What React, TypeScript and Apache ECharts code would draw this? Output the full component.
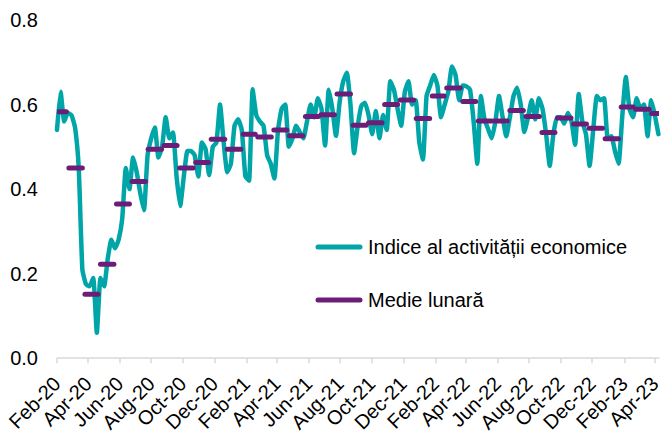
import React, { useEffect, useRef } from "react";
import * as echarts from "echarts";

// ---- data ----
const START_YEAR = 2020;
const START_MONTH = 1; // February (0-based)
const WEEK_STEP_DAYS = 7;

const tickLabels = [
  "Feb-20", "Apr-20", "Jun-20", "Aug-20", "Oct-20", "Dec-20",
  "Feb-21", "Apr-21", "Jun-21", "Aug-21", "Oct-21", "Dec-21",
  "Feb-22", "Apr-22", "Jun-22", "Aug-22", "Oct-22", "Dec-22",
  "Feb-23", "Apr-23",
];

const yTicks = [0, 0.2, 0.4, 0.6, 0.8];

// weekly activity index, starting 1 Feb 2020
const activityIndex = [
  0.54, 0.63, 0.56, 0.58, 0.575, 0.545, 0.45, 0.21, 0.175, 0.17,
  0.19, 0.06, 0.19, 0.17, 0.235, 0.28, 0.26, 0.28, 0.33, 0.45,
  0.40, 0.475, 0.44, 0.39, 0.35, 0.48, 0.52, 0.546, 0.475, 0.50,
  0.57, 0.52, 0.534, 0.43, 0.36, 0.43, 0.49, 0.49, 0.48, 0.43,
  0.51, 0.495, 0.433, 0.50, 0.51, 0.60, 0.51, 0.44, 0.46, 0.55,
  0.565, 0.54, 0.43, 0.42, 0.636, 0.575, 0.56, 0.55, 0.48, 0.46,
  0.425, 0.54, 0.59, 0.60, 0.50, 0.52, 0.55, 0.535, 0.52, 0.56,
  0.60, 0.57, 0.615, 0.59, 0.503, 0.635, 0.59, 0.526, 0.605, 0.655,
  0.675, 0.60, 0.485, 0.55, 0.597, 0.604, 0.575, 0.53, 0.585, 0.52,
  0.575, 0.54, 0.655, 0.635, 0.59, 0.55, 0.63, 0.655, 0.60, 0.61,
  0.51, 0.47, 0.62, 0.645, 0.67, 0.645, 0.57, 0.60, 0.63, 0.69,
  0.67, 0.61, 0.645, 0.643, 0.635, 0.56, 0.46, 0.62, 0.565, 0.542,
  0.52, 0.56, 0.62, 0.57, 0.525, 0.57, 0.62, 0.64, 0.60, 0.535,
  0.57, 0.61, 0.565, 0.615, 0.59, 0.53, 0.455, 0.53, 0.57, 0.57,
  0.555, 0.58, 0.56, 0.505, 0.625, 0.56, 0.53, 0.455, 0.54, 0.62,
  0.61, 0.615, 0.52, 0.525, 0.49, 0.46, 0.57, 0.665, 0.59, 0.57,
  0.615, 0.59, 0.60, 0.525, 0.61, 0.575, 0.53,
];

// monthly averages, Feb-20 .. Apr-23
const monthlyMean = [
  0.583, 0.450, 0.151, 0.222, 0.365, 0.418, 0.494, 0.503, 0.450, 0.463, 0.518,
  0.494, 0.530, 0.523, 0.540, 0.526, 0.572, 0.576, 0.625, 0.551, 0.557, 0.600, 0.611,
  0.567, 0.620, 0.639, 0.607, 0.561, 0.561, 0.586, 0.572, 0.534, 0.568, 0.554, 0.544,
  0.519, 0.594, 0.589, 0.579,
];

const seriesNames = ["Indice al activității economice", "Medie lunară"];
const TEAL = "#00A5A8";
const PURPLE = "#6C1D77";

// ---- helpers ----
const MONTHS = ["Jan", "Feb", "Mar", "Apr", "May", "Jun", "Jul", "Aug", "Sep", "Oct", "Nov", "Dec"];
const DAY_MS = 86400000;
const START_MS = Date.UTC(START_YEAR, START_MONTH, 1);
const dayOf = (y: number, m: number) => (Date.UTC(y, m, 1) - START_MS) / DAY_MS;
const labelDay = (lab: string) => {
  const [mon, yy] = lab.split("-");
  return dayOf(2000 + parseInt(yy, 10), MONTHS.indexOf(mon));
};
const tickDays = tickLabels.map(labelDay);
const dayToLabel: Record<string, string> = {};
tickLabels.forEach((l, i) => (dayToLabel[String(tickDays[i])] = l));

export default function App() {
  const ref = useRef<HTMLDivElement>(null);
  useEffect(() => {
    if (!ref.current) return;
    const chart = echarts.init(ref.current, null, { renderer: "svg" });

    const lineData = activityIndex.map((v, i) => [i * WEEK_STEP_DAYS, v]);
    const firstDay = 3;
    const monthData = monthlyMean.map((v, i) => {
      const s = dayOf(START_YEAR, START_MONTH + i);
      const n = dayOf(START_YEAR, START_MONTH + i + 1);
      return [Math.max(s - 6, firstDay), n - 11, v];
    });

    const option: any = {
      animation: false,
      backgroundColor: "#ffffff",
      textStyle: { fontFamily: "Liberation Sans, Arial, sans-serif" },
      grid: { left: 57, right: 0, top: 20, bottom: 73, containLabel: false },
      xAxis: {
        type: "value",
        min: 0,
        max: 1163,
        axisLine: { show: true, lineStyle: { color: "#D9D9D9", width: 1.5 } },
        axisTick: {
          show: true,
          length: 5,
          lineStyle: { color: "#D9D9D9", width: 1.5 },
          customValues: tickDays,
        },
        axisLabel: {
          show: true,
          rotate: 45,
          margin: 22,
          fontSize: 20,
          color: "#000",
          fontFamily: "Liberation Sans, Arial, sans-serif",
          customValues: tickDays,
          formatter: (v: number) => dayToLabel[String(v)] ?? "",
        },
        splitLine: { show: false },
      },
      yAxis: {
        type: "value",
        min: 0,
        max: 0.8,
        interval: 0.2,
        axisLine: { show: false },
        axisTick: { show: false },
        splitLine: { show: false },
        axisLabel: {
          margin: 19,
          fontSize: 20,
          color: "#000",
          fontFamily: "Liberation Sans, Arial, sans-serif",
          formatter: (v: number) => (yTicks.includes(Math.round(v * 10) / 10) ? v.toFixed(1) : ""),
        },
      },
      series: [
        {
          name: seriesNames[0],
          type: "line",
          data: lineData,
          showSymbol: false,
          symbol: "none",
          smooth: 0.15,
          clip: true,
          lineStyle: { color: TEAL, width: 4.5, cap: "round", join: "round" },
          z: 2,
        },
        {
          name: seriesNames[1],
          type: "custom",
          data: monthData,
          encode: { x: [0, 1], y: 2 },
          clip: true,
          z: 3,
          renderItem: (params: any, api: any) => {
            const p1 = api.coord([api.value(0), api.value(2)]);
            const p2 = api.coord([api.value(1), api.value(2)]);
            return {
              type: "line",
              shape: { x1: p1[0], y1: p1[1], x2: p2[0], y2: p2[1] },
              style: { stroke: PURPLE, lineWidth: 5, lineCap: "round" },
            };
          },
        },
      ],
      graphic: [
        {
          type: "line",
          shape: { x1: 318, y1: 247, x2: 360, y2: 247 },
          style: { stroke: TEAL, lineWidth: 5, lineCap: "round" },
        },
        {
          type: "text",
          x: 368,
          y: 247,
          style: {
            text: seriesNames[0],
            fontSize: 20,
            fill: "#000",
            fontFamily: "Liberation Sans, Arial, sans-serif",
            verticalAlign: "middle",
          },
        },
        {
          type: "line",
          shape: { x1: 318, y1: 300, x2: 360, y2: 300 },
          style: { stroke: PURPLE, lineWidth: 5, lineCap: "round" },
        },
        {
          type: "text",
          x: 368,
          y: 300,
          style: {
            text: seriesNames[1],
            fontSize: 20,
            fill: "#000",
            fontFamily: "Liberation Sans, Arial, sans-serif",
            verticalAlign: "middle",
          },
        },
      ],
    };
    chart.setOption(option);
    return () => chart.dispose();
  }, []);

  return (
    <div
      ref={ref}
      style={{ position: "fixed", left: 0, top: 0, width: 664, height: 435, background: "#fff" }}
    />
  );
}
